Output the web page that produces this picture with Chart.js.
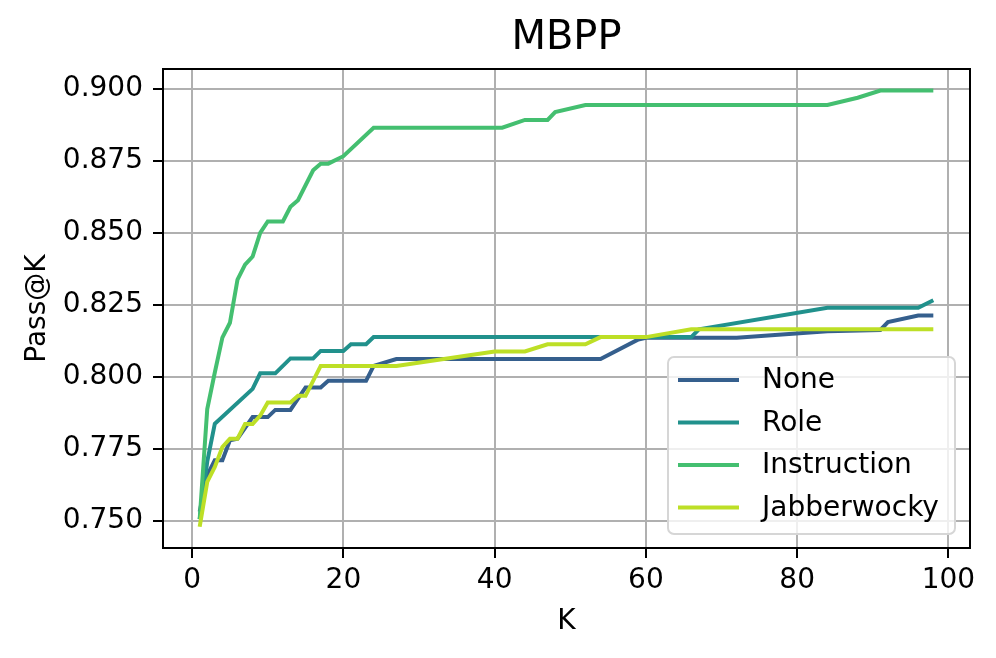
<!DOCTYPE html>
<html>
<head>
<meta charset="utf-8">
<script src="https://cdn.jsdelivr.net/npm/chart.js@4.4.1/dist/chart.umd.min.js"></script>
<style>
  html, body { margin: 0; padding: 0; background: #fff; }
  #wrap { width: 996px; height: 658px; }
</style>
</head>
<body>
<div id="wrap"><canvas id="mbppChart" width="996" height="658"></canvas></div>
<script>
    // series (K, Pass@K); only the break points of each curve
    var labels = ['None', 'Role', 'Instruction', 'Jabberwocky'];
    var colors = ['#355f8d', '#21918c', '#44bf70', '#bddf26'];

    var kNone = [1, 2, 3, 4, 5, 6, 8, 10, 11, 13, 15, 17, 18, 23, 24, 27, 54, 59, 60, 72, 84, 91, 92, 96, 98];
    var passNone = [0.7531, 0.7658, 0.7710, 0.7710, 0.7779, 0.7785, 0.7860, 0.7860, 0.7885, 0.7885, 0.7963, 0.7963, 0.7986, 0.7986, 0.8038, 0.8062, 0.8062, 0.8130, 0.8136, 0.8136, 0.8158, 0.8163, 0.8190, 0.8213, 0.8213];

    var kRole = [1, 2, 3, 8, 9, 11, 13, 16, 17, 20, 21, 23, 24, 66, 67, 84, 96, 98];
    var passRole = [0.7505, 0.7705, 0.7837, 0.7958, 0.8012, 0.8012, 0.8064, 0.8064, 0.8090, 0.8090, 0.8113, 0.8113, 0.8138, 0.8138, 0.8165, 0.8240, 0.8240, 0.8266];

    var kInstr = [1, 2, 3, 4, 5, 6, 7, 8, 9, 10, 12, 13, 14, 16, 17, 18, 20, 24, 41, 44, 47, 48, 52, 84, 88, 91, 98];
    var passInstr = [0.7505, 0.7888, 0.8015, 0.8136, 0.8188, 0.8338, 0.8390, 0.8418, 0.8500, 0.8540, 0.8540, 0.8591, 0.8614, 0.8718, 0.8741, 0.8741, 0.8767, 0.8866, 0.8866, 0.8893, 0.8893, 0.8920, 0.8945, 0.8945, 0.8970, 0.8995, 0.8995];

    var kJabb = [1, 2, 3, 4, 5, 6, 7, 8, 9, 10, 13, 14, 15, 17, 27, 40, 44, 47, 52, 54, 60, 66, 98];
    var passJabb = [0.7479, 0.7635, 0.7687, 0.7756, 0.7785, 0.7785, 0.7836, 0.7836, 0.7865, 0.7911, 0.7911, 0.7934, 0.7934, 0.8038, 0.8038, 0.8088, 0.8088, 0.8113, 0.8113, 0.8138, 0.8138, 0.8165, 0.8165];

    var xTicks = [0, 20, 40, 60, 80, 100];
    var yTicks = [0.750, 0.775, 0.800, 0.825, 0.850, 0.875, 0.900];

    function pts(ks, vs) {
        return ks.map(function (k, i) { return { x: k, y: vs[i] }; });
    }
    var series = [pts(kNone, passNone), pts(kRole, passRole), pts(kInstr, passInstr), pts(kJabb, passJabb)];

    Chart.defaults.font.family = "'DejaVu Sans', sans-serif";
    Chart.defaults.color = '#000';

    // title, axis labels, frame and the in-plot legend, drawn like matplotlib
    var decor = {
        id: 'decor',
        afterDraw: function (chart) {
            var c = chart.ctx, a = chart.chartArea;
            c.save();
            c.fillStyle = '#000';
            c.textAlign = 'center';
            c.textBaseline = 'middle';
            c.font = "40px 'DejaVu Sans'";
            c.fillText('MBPP', (a.left + a.right) / 2, 39);
            c.font = "28px 'DejaVu Sans'";
            c.fillText('K', (a.left + a.right) / 2, 622);
            c.save();
            c.translate(38, (a.top + a.bottom) / 2);
            c.rotate(-Math.PI / 2);
            c.fillText('Pass@K', 0, 0);
            c.restore();

            c.strokeStyle = '#000';
            c.lineWidth = 2;
            c.strokeRect(a.left, a.top, a.right - a.left, a.bottom - a.top);

            // legend
            var bx = 668, by = 357, bw = 287, bh = 177;
            c.beginPath();
            c.roundRect(bx, by, bw, bh, 6);
            c.fillStyle = 'rgba(255,255,255,0.8)';
            c.fill();
            c.strokeStyle = '#d6d6d6';
            c.lineWidth = 2;
            c.stroke();
            c.textAlign = 'left';
            for (var i = 0; i < labels.length; i++) {
                var y = 380 + i * 42.5;
                c.strokeStyle = colors[i];
                c.lineWidth = 4;
                c.beginPath();
                c.moveTo(678, y);
                c.lineTo(739, y);
                c.stroke();
                c.fillStyle = '#000';
                c.fillText(labels[i], 762, y + 1);
            }
            c.restore();
        }
    };

    var ctx = document.getElementById('mbppChart').getContext('2d');
    var myChart = new Chart(ctx, {
        type: 'line',
        data: {
            datasets: series.map(function (d, i) {
                return {
                    label: labels[i],
                    data: d,
                    borderColor: colors[i],
                    backgroundColor: colors[i],
                    borderWidth: 4,
                    pointRadius: 0,
                    tension: 0,
                    fill: false,
                    order: labels.length - i
                };
            })
        },
        options: {
            responsive: false,
            animation: false,
            layout: { padding: { top: 69, right: 26, left: 0, bottom: 0 } },
            plugins: { legend: { display: false }, tooltip: { enabled: false } },
            scales: {
                x: {
                    type: 'linear',
                    min: -3.85,
                    max: 102.85,
                    afterBuildTicks: function (s) { s.ticks = xTicks.map(function (v) { return { value: v }; }); },
                    afterFit: function (s) { s.height = 110; },
                    ticks: { font: { size: 28 }, padding: 6, autoSkip: false, maxRotation: 0, color: '#000' },
                    grid: { color: '#b0b0b0', lineWidth: 2, tickColor: '#000', tickLength: 10, tickWidth: 2 },
                    border: { display: false }
                },
                y: {
                    type: 'linear',
                    min: 0.7405,
                    max: 0.907,
                    afterBuildTicks: function (s) { s.ticks = yTicks.map(function (v) { return { value: v }; }); },
                    afterFit: function (s) { s.width = 163; },
                    ticks: {
                        font: { size: 28 }, padding: 10, autoSkip: false, color: '#000',
                        callback: function (v) { return v.toFixed(3); }
                    },
                    grid: { color: '#b0b0b0', lineWidth: 2, tickColor: '#000', tickLength: 10, tickWidth: 2 },
                    border: { display: false }
                }
            }
        },
        plugins: [decor]
    });
</script>
</body>
</html>
